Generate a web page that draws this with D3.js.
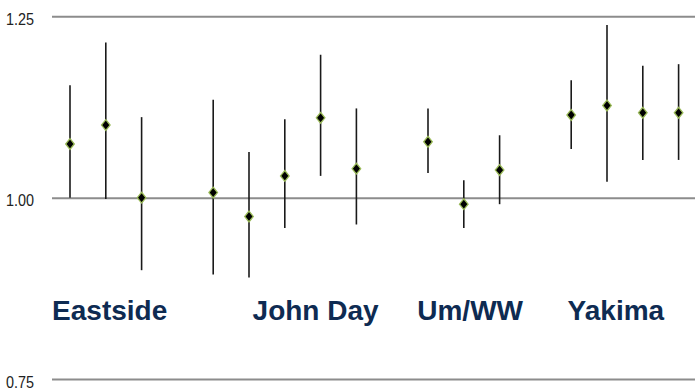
<!DOCTYPE html>
<html>
<head>
<meta charset="utf-8">
<script src="https://cdn.jsdelivr.net/npm/d3@7"></script>
<style>
  html, body { margin: 0; padding: 0; background: #fff; }
  svg { display: block; }
</style>
</head>
<body>
<svg id="chart" width="695" height="390"></svg>
<script>
// Slot index of each estimate along the x axis (gaps separate the basins)
const slots = [0, 1, 2, 4, 5, 6, 7, 8, 10, 11, 12, 14, 15, 16, 17];
// Point estimates with lower / upper interval bounds
const estimates = [1.074, 1.100, 1.000, 1.007, 0.974, 1.030, 1.110, 1.040, 1.077, 0.991, 1.038, 1.114, 1.127, 1.117, 1.117];
const lower     = [1.000, 0.998, 0.900, 0.894, 0.890, 0.958, 1.030, 0.963, 1.034, 0.958, 0.991, 1.067, 1.022, 1.052, 1.052];
const upper     = [1.155, 1.214, 1.111, 1.135, 1.063, 1.108, 1.197, 1.123, 1.123, 1.024, 1.086, 1.162, 1.238, 1.182, 1.184];
// Basin labels and the slot where each label starts
const groups     = ["Eastside", "John Day", "Um/WW", "Yakima"];
const groupSlots = [-0.5, 5.1, 9.7, 13.9];
// Y axis ticks
const yTicks = [0.75, 1.00, 1.25];

const svg = d3.select("#chart");
const W = 695;
const left = 52;

const x = d3.scaleLinear().domain([0, 17]).range([70, 678.6]);
const y = d3.scaleLinear().domain([0.75, 1.25]).range([379, 16.3]);

// Gridlines + tick labels
const axis = d3.axisLeft(y)
  .tickValues(yTicks)
  .tickFormat(d3.format(".2f"))
  .tickSize(-(W - left))
  .tickPadding(18);

const gAxis = svg.append("g")
  .attr("transform", `translate(${left},0)`)
  .call(axis);
gAxis.select(".domain").remove();
gAxis.selectAll(".tick line")
  .attr("stroke", "#8c8c8c")
  .attr("stroke-width", 2);
gAxis.selectAll(".tick text")
  .attr("fill", "#222")
  .attr("dy", null)
  .attr("y", 8)
  .attr("textLength", 28)
  .attr("lengthAdjust", "spacingAndGlyphs")
  .style("font-family", "'Liberation Sans', Arial, sans-serif")
  .style("font-size", "16.5px");

// Interval whiskers
const data = slots.map((s, i) => ({ s, est: estimates[i], lo: lower[i], hi: upper[i] }));

svg.append("g").selectAll("line")
  .data(data)
  .join("line")
  .attr("x1", d => x(d.s))
  .attr("x2", d => x(d.s))
  .attr("y1", d => y(d.lo))
  .attr("y2", d => y(d.hi))
  .attr("stroke", "#1a1a1a")
  .attr("stroke-width", 1.6);

// Diamond markers
const hw = 4.3, hh = 5.4;
const diamond = `M0,${-hh}L${hw},0L0,${hh}L${-hw},0Z`;
svg.append("g").selectAll("path")
  .data(data)
  .join("path")
  .attr("d", diamond)
  .attr("transform", d => `translate(${x(d.s)},${y(d.est)})`)
  .attr("fill", "#000")
  .attr("stroke", "#9bbb59")
  .attr("stroke-width", 1.3);

// Basin labels
svg.append("g").selectAll("text")
  .data(groups)
  .join("text")
  .attr("x", (d, i) => x(groupSlots[i]))
  .attr("y", 320)
  .attr("fill", "#0e2b52")
  .style("font-family", "'Liberation Sans', Arial, sans-serif")
  .style("font-weight", "bold")
  .style("font-size", "28px")
  .text(d => d);
</script>
</body>
</html>
